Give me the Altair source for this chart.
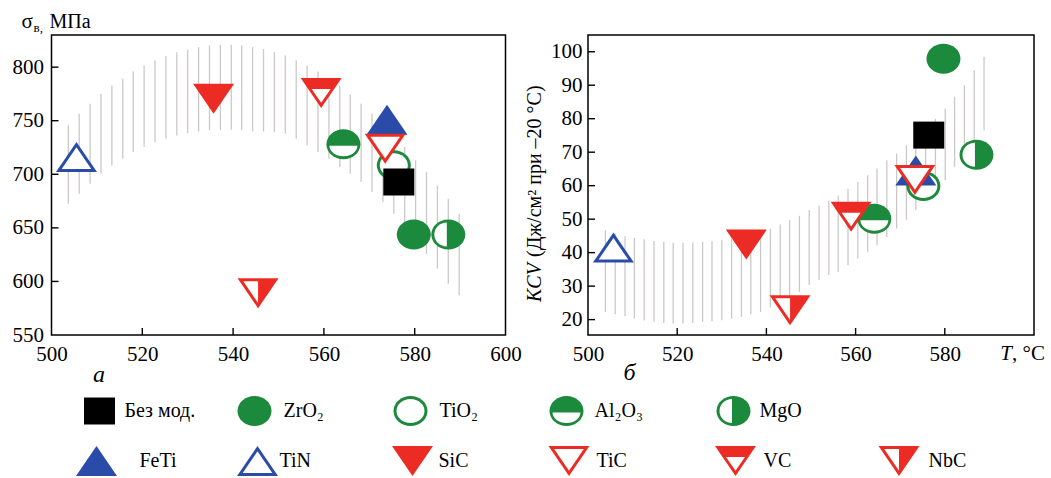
import altair as alt
import pandas as pd

FONT = "Liberation Serif"

# ---------------- data ----------------
MATERIALS = ["Без мод.", "ZrO₂", "TiO₂", "Al₂O₃", "MgO", "FeTi", "TiN", "SiC", "TiC", "VC", "NbC"]

# panel а : sigma_B, MPa vs T
A_T = [576.5, 579.8, 575.4, 564.3, 587.4, 573.9, 505.5, 535.7, 573.5, 559.4, 545.5]
A_SIGMA = [692.8, 643.9, 708.4, 728.0, 643.9, 751.0, 716.1, 770.5, 723.9, 775.8, 589.0]

# panel б : KCV vs T
B_T = [576.4, 579.7, 575.2, 564.2, 587.1, 573.5, 505.7, 535.5, 573.3, 559.0, 545.3]
B_KCV = [75.1, 97.9, 59.9, 50.1, 69.2, 64.5, 41.5, 42.4, 61.7, 50.7, 22.8]

# hatched scatter band, panel а
BAND_A_T = [503.7, 506.1, 508.5, 510.9, 513.3, 515.7, 518.0, 520.4, 522.8, 525.2,
            527.6, 530.0, 532.4, 534.8, 537.2, 539.6, 541.9, 544.3, 546.7, 549.1,
            551.5, 553.9, 556.3, 558.7, 561.1, 563.5, 565.8, 568.2, 570.6, 573.0,
            575.4, 577.8, 580.2, 582.6, 585.0, 587.4, 589.8]
BAND_A_HI = [745.6, 756.5, 765.8, 775.1, 782.9, 789.1, 796.0, 801.6, 806.2, 810.3,
             814.0, 816.5, 818.7, 820.2, 820.8, 820.8, 820.2, 818.7, 816.8, 814.0,
             810.9, 806.2, 801.6, 796.0, 789.1, 782.9, 774.2, 765.8, 756.5, 747.1,
             736.3, 725.4, 713.0, 702.0, 689.6, 677.1, 663.2]
BAND_A_LO = [672.5, 681.8, 691.1, 700.5, 708.3, 714.5, 720.7, 725.4, 730.0, 733.1,
             736.3, 738.4, 740.0, 741.0, 741.5, 741.5, 741.0, 740.0, 740.0, 739.4,
             737.8, 733.1, 727.0, 720.7, 714.5, 706.7, 700.5, 692.7, 683.4, 674.1,
             663.2, 652.3, 639.8, 625.8, 611.8, 597.9, 587.0]

# hatched scatter band, panel б
BAND_B_T = [503.9, 506.1, 508.3, 510.4, 512.6, 514.8, 517.0, 519.1, 521.3, 523.5,
            525.7, 527.8, 530.0, 532.2, 534.4, 536.5, 538.7, 540.9, 543.1, 545.2,
            547.4, 549.6, 551.8, 554.0, 556.1, 558.3, 560.5, 562.7, 564.8, 567.0,
            569.2, 571.4, 573.5, 575.7, 577.9, 580.1, 582.2, 584.4, 586.6, 588.8]
BAND_B_HI = [46.7, 45.7, 44.9, 44.4, 44.0, 43.5, 43.2, 43.0, 43.0, 43.0,
             43.2, 43.4, 43.7, 44.2, 44.7, 45.2, 46.2, 47.2, 48.4, 49.7,
             51.0, 52.7, 54.1, 55.6, 57.1, 59.1, 61.1, 63.1, 65.1, 67.6,
             69.6, 72.1, 74.5, 77.0, 80.0, 83.0, 86.5, 90.0, 94.5, 98.5]
BAND_B_LO = [22.3, 21.6, 21.0, 20.3, 19.7, 19.3, 19.0, 18.8, 18.8, 19.0,
             19.3, 19.5, 19.8, 20.3, 20.8, 21.6, 22.3, 23.6, 24.8, 26.3,
             28.3, 30.3, 31.8, 33.3, 34.2, 36.2, 38.2, 40.2, 42.2, 44.7,
             47.2, 49.7, 52.7, 55.6, 58.6, 61.6, 65.6, 68.6, 73.0, 76.5]

A_XTICKS = [500, 520, 540, 560, 580, 600]
A_YTICKS = [550, 600, 650, 700, 750, 800]
B_XTICKS = [500, 520, 540, 560, 580]
B_YTICKS = [20, 30, 40, 50, 60, 70, 80, 90, 100]

# ---------------- styles / layout ----------------
G, R, BL, K, W = "#1b8a3c", "#ec2c24", "#2a4ca8", "#000000", "#ffffff"
BAND_COLOR = "#cdc8c8"

E_OUT = "M-17,0A17,15 0 1,1 17,0A17,15 0 1,1 -17,0Z"
E_IN = "M-14,0A14,12 0 1,1 14,0A14,12 0 1,1 -14,0Z"
E_IN_LOW = "M14,1.5A14,10.5 0 0,1 -14,1.5Z"
E_IN_LEFT = "M-1.5,-12A12.5,12 0 0,0 -1.5,12Z"
SQ = "M-15.5,-13.5H15.5V13.5H-15.5Z"
TD = "M-20.5,-15L20.5,-15L0,15Z"
TD_IN = "M-14.8,-12L14.8,-12L0,9.7Z"
TD_IN_LEFT = "M-14.8,-12L0,-12L0,9.7Z"
TD_VC = "M-9.5,-4L9.5,-4L0,9.7Z"
TU = "M0,-15L20.5,15L-20.5,15Z"
TU_IN = "M0,-9.7L14.8,12L-14.8,12Z"

STYLE = {
    0: [(SQ, K)],
    1: [(E_OUT, G)],
    2: [(E_OUT, G), (E_IN, W)],
    3: [(E_OUT, G), (E_IN_LOW, W)],
    4: [(E_OUT, G), (E_IN_LEFT, W)],
    5: [(TU, BL)],
    6: [(TU, BL), (TU_IN, W)],
    7: [(TD, R)],
    8: [(TD, R), (TD_IN, W)],
    9: [(TD, R), (TD_VC, W)],
    10: [(TD, R), (TD_IN_LEFT, W)],
}
DRAW_ORDER = [1, 2, 3, 4, 0, 5, 6, 7, 8, 9, 10]

# legend layout (canvas pixels)
LEG_MX = [98, 253, 409, 565, 732, 95, 256, 411, 567.5, 734, 897.5]
LEG_MY = [409, 409, 409, 409, 409, 459, 459, 459, 459, 459, 459]
LEG_TX = [123, 282, 438, 593, 758, 138, 278, 437, 595, 762, 927]

PLOT_A = dict(w=454, h=300)
PLOT_B = dict(w=446, h=300)


def parts_df(xs, ys):
    rows = []
    o = 0
    for m in DRAW_ORDER:
        for path, color in STYLE[m]:
            rows.append({"x": xs[m], "y": ys[m], "path": path, "color": color, "o": o})
            o += 1
    return pd.DataFrame(rows)


def markers(df, X, Y):
    return alt.Chart(df).mark_point(filled=True, size=4, opacity=1, strokeWidth=0).encode(
        x=X("x:Q"), y=Y("y:Q"),
        shape=alt.Shape("path:N", scale=None),
        color=alt.Color("color:N", scale=None),
        order=alt.Order("o:Q"),
    )


def label(text, x, y, size=20, **kw):
    return alt.Chart(pd.DataFrame({"s": [text]})).mark_text(
        font=FONT, fontSize=size, color="black", baseline="alphabetic", **kw
    ).encode(text="s:N", x=alt.value(x), y=alt.value(y))


def panel(T, V, bandT, bandLo, bandHi, xticks_in, yticks, ydom,
          xaxis, yaxis, w, h):
    xs = alt.Scale(domain=[500, 600], nice=False, zero=False)
    ys = alt.Scale(domain=ydom, nice=False, zero=False)

    def X(f):
        return alt.X(f, scale=xs, axis=xaxis)

    def Y(f):
        return alt.Y(f, scale=ys, axis=yaxis)

    band = alt.Chart(pd.DataFrame({"x": bandT, "lo": bandLo, "hi": bandHi})).mark_rule(
        color=BAND_COLOR, strokeWidth=1.3).encode(x=X("x:Q"), y=Y("lo:Q"), y2="hi:Q")
    xt = alt.Chart(pd.DataFrame({"t": xticks_in})).mark_rule(color="black", strokeWidth=1.4).encode(
        x=X("t:Q"), y=alt.value(h), y2=alt.value(h - 7))
    yt = alt.Chart(pd.DataFrame({"t": yticks})).mark_rule(color="black", strokeWidth=1.4).encode(
        y=Y("t:Q"), x=alt.value(0), x2=alt.value(7))
    mk = markers(parts_df(T, V), X, Y)
    return [band, xt, yt, mk], X, Y


xaxis_a = alt.Axis(values=A_XTICKS, orient="bottom", title="а", titleFontStyle="italic",
                   titleFontSize=24, titleX=47, titleY=46, titleBaseline="alphabetic",
                   titleAlign="center", labelPadding=8)
yaxis_a = alt.Axis(values=A_YTICKS, orient="left", title=None, labelPadding=8)
xaxis_b = alt.Axis(values=B_XTICKS, orient="bottom", title="б", titleFontStyle="italic",
                   titleFontSize=24, titleX=41, titleY=44, titleBaseline="alphabetic",
                   titleAlign="center", labelPadding=8)
yaxis_b = alt.Axis(values=B_YTICKS, orient="left", title=None, labelPadding=6)

layers_a, XA, YA = panel(A_T, A_SIGMA, BAND_A_T, BAND_A_LO, BAND_A_HI,
                         A_XTICKS[1:-1], A_YTICKS[1:], [550, 830], xaxis_a, yaxis_a,
                         PLOT_A["w"], PLOT_A["h"])
layers_b, XB, YB = panel(B_T, B_KCV, BAND_B_T, BAND_B_LO, BAND_B_HI,
                         B_XTICKS[1:], B_YTICKS, [15.4, 105], xaxis_b, yaxis_b,
                         PLOT_B["w"], PLOT_B["h"])

# axis title of panel а: sigma with subscript
layers_a += [
    label("σ", -30, -7, 21, align="left"),
    label("в,", -18, -3, 13, align="left"),
    label("МПа", -2, -7, 20, align="left"),
]

# axis title of panel б (rotated), KCV in italics
layers_b += [
    label("KCV", -47, 267, 20, align="left", angle=270, fontStyle="italic"),
    label("(Дж/см² при –20 °C)", -47, 222, 20, align="left", angle=270),
]

# "T, °C" in place of the 600 tick label on panel б
tdf = pd.DataFrame({"x": [600]})
t_it = alt.Chart(tdf).mark_text(text="T", font=FONT, fontSize=21, fontStyle="italic",
                               align="right", baseline="alphabetic", dx=-22,
                               color="black").encode(x=XB("x:Q"), y=alt.value(325))
t_c = alt.Chart(tdf).mark_text(text=", °C", font=FONT, fontSize=21, align="left",
                              baseline="alphabetic", dx=-22,
                              color="black").encode(x=XB("x:Q"), y=alt.value(325))
layers_b += [t_it, t_c]

# legend (drawn in panel а's group, canvas-pixel scales)
lx = alt.Scale(domain=[0, 1051], range=[-50, 1001])
ly = alt.Scale(domain=[0, 478], range=[-33, 445])
leg_parts = []
o = 0
for m in range(len(MATERIALS)):
    for path, color in STYLE[m]:
        leg_parts.append({"x": LEG_MX[m], "y": LEG_MY[m], "path": path, "color": color, "o": o})
        o += 1
leg_m = alt.Chart(pd.DataFrame(leg_parts)).mark_point(
    filled=True, size=4, opacity=1, strokeWidth=0).encode(
    x=alt.X("x:Q", scale=lx, axis=None), y=alt.Y("y:Q", scale=ly, axis=None),
    shape=alt.Shape("path:N", scale=None), color=alt.Color("color:N", scale=None),
    order=alt.Order("o:Q"))
leg_t = alt.Chart(pd.DataFrame({"x": LEG_TX, "y": LEG_MY, "label": MATERIALS})).mark_text(
    font=FONT, fontSize=20, align="left", baseline="middle", color="black").encode(
    x=alt.X("x:Q", scale=lx, axis=None), y=alt.Y("y:Q", scale=ly, axis=None),
    text="label:N")

panel_a = alt.layer(alt.layer(*layers_a), leg_m, leg_t).resolve_scale(
    x="independent", y="independent").properties(width=PLOT_A["w"], height=PLOT_A["h"])
panel_b = alt.layer(*layers_b).properties(width=PLOT_B["w"], height=PLOT_B["h"])

chart = alt.hconcat(panel_a, panel_b, spacing=82.5, bounds="flush").properties(
    padding={"left": 10.5, "top": 10, "right": 0, "bottom": 0},
    background="white",
).configure_view(stroke="black", strokeWidth=1.5).configure_axis(
    labelFont=FONT, labelFontSize=21, labelColor="black", titleFont=FONT,
    titleColor="black", titleFontWeight="normal", grid=False, ticks=False,
    tickSize=0, domain=False, labelFlush=False, labelOverlap=False)

chart.save("out.html", embed_options={"renderer": "svg", "actions": False})
